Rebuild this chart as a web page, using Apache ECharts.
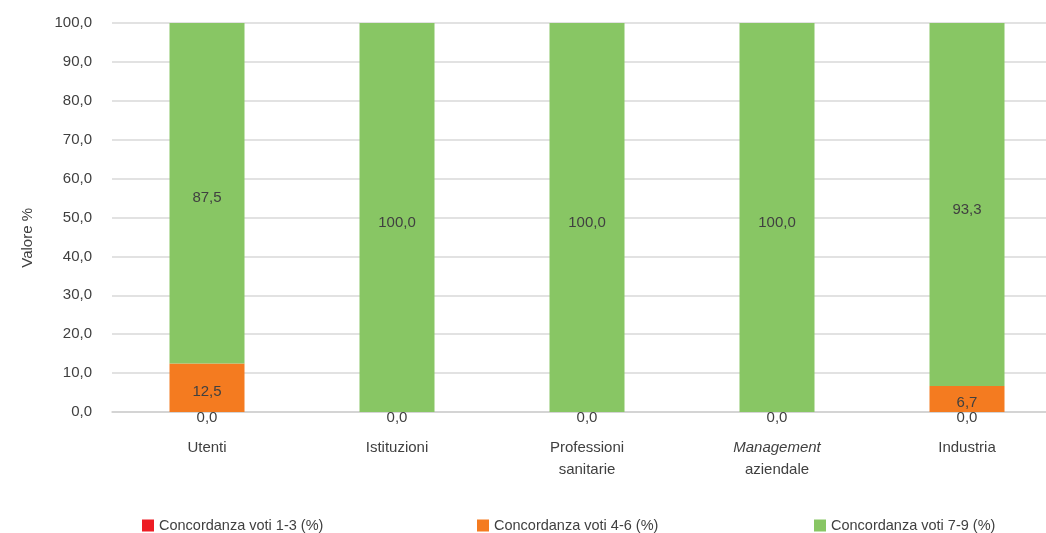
<!DOCTYPE html>
<html>
<head>
<meta charset="utf-8">
<script src="https://cdn.jsdelivr.net/npm/echarts@6/dist/echarts.min.js"></script>
<style>
html,body{margin:0;padding:0;background:#fff;overflow:hidden;width:1046px;height:533px;}
#chart{width:1062px;height:533px;}
</style>
</head>
<body>
<div id="chart"></div>
<script>
const categories = ['Utenti', 'Istituzioni', 'Professioni\nsanitarie', 'Management\naziendale', 'Industria'];
const seriesNames = ['Concordanza voti 1-3 (%)', 'Concordanza voti 4-6 (%)', 'Concordanza voti 7-9 (%)'];
const voti13 = [0.0, 0.0, 0.0, 0.0, 0.0];
const voti46 = [12.5, 0.0, 0.0, 0.0, 6.7];
const voti79 = [87.5, 100.0, 100.0, 100.0, 93.3];
const yTicks = [0, 10, 20, 30, 40, 50, 60, 70, 80, 90, 100];

const FONT = "'Liberation Sans', Arial, sans-serif";
const TXT = '#404040';
const fmt = v => Number(v).toFixed(1).replace('.', ',');

const chart = echarts.init(document.getElementById('chart'), null, {renderer: 'canvas'});
chart.setOption({
  backgroundColor: '#ffffff',
  animation: false,
  textStyle: {fontFamily: FONT, color: TXT},
  grid: {left: 112, top: 23, right: 0, bottom: 121, containLabel: false},
  xAxis: {
    type: 'category',
    data: categories,
    axisLine: {show: true, lineStyle: {color: '#d0d0d0', width: 1.5}},
    axisTick: {show: false},
    axisLabel: {
      fontFamily: FONT, fontSize: 15, color: TXT, margin: 25, lineHeight: 22,
      formatter: v => v.startsWith('Management') ? '{i|Management}\naziendale' : v,
      rich: {i: {fontStyle: 'italic', fontFamily: FONT, fontSize: 15, color: TXT, lineHeight: 22}}
    }
  },
  yAxis: {
    type: 'value',
    min: yTicks[0], max: yTicks[yTicks.length - 1], interval: 10,
    axisLine: {show: false},
    axisTick: {show: false},
    splitLine: {lineStyle: {color: '#d9d9d9', width: 1.5}},
    axisLabel: {fontFamily: FONT, fontSize: 15, color: TXT, margin: 20, formatter: v => fmt(v)}
  },
  graphic: [{
    type: 'text', left: 20, top: 208, rotation: Math.PI / 2,
    style: {text: 'Valore %', font: '15px ' + FONT, fill: TXT}
  }],
  legend: [
    {data: [seriesNames[0]], left: 137, top: 513},
    {data: [seriesNames[1]], left: 472, top: 513},
    {data: [seriesNames[2]], left: 809, top: 513}
  ].map(l => Object.assign(l, {
    itemWidth: 12, itemHeight: 12, icon: 'rect', itemGap: 5,
    textStyle: {fontFamily: FONT, fontSize: 14.5, color: TXT}
  })),
  series: [
    {
      name: seriesNames[0], type: 'bar', stack: 'tot', data: voti13, barWidth: 75,
      itemStyle: {color: '#ed1c24'},
      label: {show: true, position: 'inside', offset: [0, 6], fontFamily: FONT, fontSize: 15, color: TXT, formatter: p => fmt(p.value)}
    },
    {
      name: seriesNames[1], type: 'bar', stack: 'tot', data: voti46, barWidth: 75,
      itemStyle: {color: '#f47b20'},
      label: {show: true, position: 'inside', offset: [0, 4], fontFamily: FONT, fontSize: 15, color: TXT, formatter: p => p.value ? fmt(p.value) : ''}
    },
    {
      name: seriesNames[2], type: 'bar', stack: 'tot', data: voti79, barWidth: 75,
      itemStyle: {color: '#88c664'},
      label: {show: true, position: 'inside', offset: [0, 5], fontFamily: FONT, fontSize: 15, color: TXT, formatter: p => p.value ? fmt(p.value) : ''}
    }
  ]
});
</script>
</body>
</html>
